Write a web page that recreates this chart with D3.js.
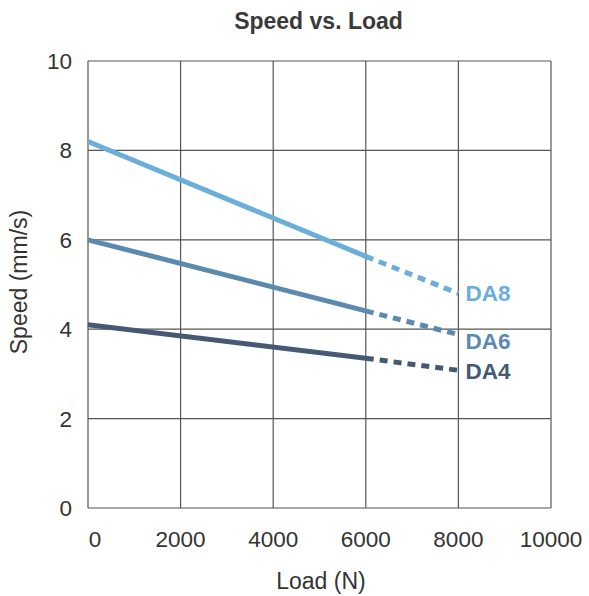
<!DOCTYPE html>
<html>
<head>
<meta charset="utf-8">
<script src="https://cdn.jsdelivr.net/npm/d3@7"></script>
<style>
  body { margin: 0; background: #fff; }
  text { font-family: "Liberation Sans", Arial, sans-serif; }
</style>
</head>
<body>
<div id="chart"></div>
<script>
// data
const loads = [0, 6000, 8000];
const seriesNames = ["DA8", "DA6", "DA4"];
const da8 = [8.2, 5.63, 4.8];
const da6 = [6.0, 4.41, 3.88];
const da4 = [4.1, 3.35, 3.08];
const xTicks = [0, 2000, 4000, 6000, 8000, 10000];
const yTicks = [0, 2, 4, 6, 8, 10];
const colors = ["#6aaed9", "#5b8ab0", "#455a72"];

const width = 589, height = 596;
const margin = { top: 61, right: 38, bottom: 88, left: 88 };

const svg = d3.select("#chart").append("svg")
  .attr("width", width)
  .attr("height", height);

const x = d3.scaleLinear().domain([0, 10000]).range([margin.left, width - margin.right]);
const y = d3.scaleLinear().domain([0, 10]).range([height - margin.bottom, margin.top]);

// grid
svg.append("g")
  .selectAll("line.v")
  .data(xTicks)
  .enter().append("line")
  .attr("x1", d => x(d)).attr("x2", d => x(d))
  .attr("y1", y(0)).attr("y2", y(10))
  .attr("stroke", "#555").attr("stroke-width", 1.2);

svg.append("g")
  .selectAll("line.h")
  .data(yTicks)
  .enter().append("line")
  .attr("x1", x(0)).attr("x2", x(10000))
  .attr("y1", d => y(d)).attr("y2", d => y(d))
  .attr("stroke", "#555").attr("stroke-width", 1.2);

// tick labels
svg.append("g")
  .selectAll("text")
  .data(xTicks)
  .enter().append("text")
  .attr("x", d => d === 0 ? x(d) + 7 : x(d))
  .attr("y", y(0) + 39)
  .attr("text-anchor", "middle")
  .attr("font-size", 22.5)
  .attr("fill", "#333")
  .text(d => d);

svg.append("g")
  .selectAll("text")
  .data(yTicks)
  .enter().append("text")
  .attr("x", x(0) - 16)
  .attr("y", d => y(d) + 8)
  .attr("text-anchor", "end")
  .attr("font-size", 22.5)
  .attr("fill", "#333")
  .text(d => d);

// titles
svg.append("text")
  .attr("x", 318.5).attr("y", 29)
  .attr("text-anchor", "middle")
  .attr("font-size", 23).attr("font-weight", "bold")
  .attr("fill", "#3a3a3a")
  .text("Speed vs. Load");

svg.append("text")
  .attr("x", 321).attr("y", 589)
  .attr("text-anchor", "middle")
  .attr("font-size", 23)
  .attr("fill", "#333")
  .text("Load (N)");

svg.append("text")
  .attr("transform", "translate(26.5," + 282 + ") rotate(-90)")
  .attr("text-anchor", "middle")
  .attr("font-size", 23)
  .attr("fill", "#333")
  .text("Speed (mm/s)");

// series
const allSeries = [da8, da6, da4];
const line = d3.line().x(d => x(d[0])).y(d => y(d[1]));

allSeries.forEach(function(vals, i) {
  const pts = loads.map((l, j) => [l, vals[j]]);
  // solid part (measured)
  svg.append("path")
    .attr("d", line(pts.slice(0, 2)))
    .attr("fill", "none")
    .attr("stroke", colors[i])
    .attr("stroke-width", 5);
  // dashed part (extrapolated)
  svg.append("path")
    .attr("d", line(pts.slice(1)))
    .attr("fill", "none")
    .attr("stroke", colors[i])
    .attr("stroke-width", 5)
    .attr("stroke-dasharray", "8,6");
});

// series labels
const labelY = [301, 349, 379];
seriesNames.forEach(function(name, i) {
  svg.append("text")
    .attr("x", x(8000) + 7)
    .attr("y", labelY[i])
    .attr("font-size", 22.5)
    .attr("font-weight", "bold")
    .attr("fill", colors[i])
    .text(name);
});
</script>
</body>
</html>
